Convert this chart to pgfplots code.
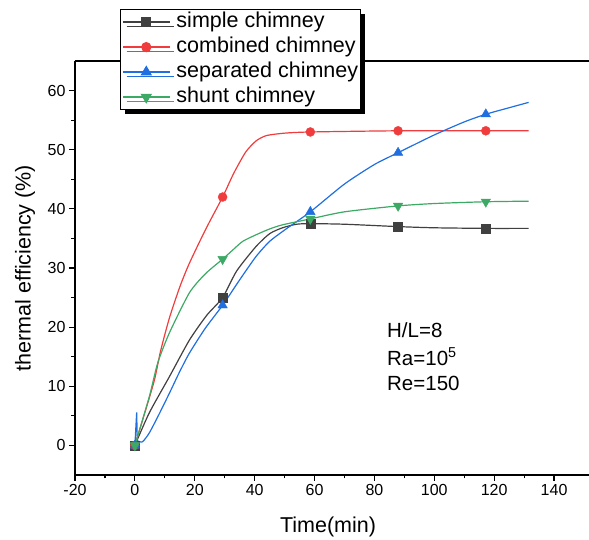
\documentclass[border=0pt]{standalone}
\usepackage{pgfplots}
\pgfplotsset{compat=1.18}
\usepackage{fontspec}
\setmainfont{Liberation Sans}
\usetikzlibrary{shadows}

\definecolor{cgray}{HTML}{404040}
\definecolor{cred}{HTML}{F03C3C}
\definecolor{cblue}{HTML}{1F6FE0}
\definecolor{cgreen}{HTML}{3CAA64}

\begin{document}
\begin{tikzpicture}
\useasboundingbox (-75pt,-65pt) rectangle (514pt,475pt);
\begin{axis}[
  at={(0pt,0pt)}, anchor=south west,
  scale only axis, width=513.5pt, height=414pt,
  xmin=-20, xmax=151.5, ymin=-5, ymax=65,
  axis x line*=box, axis y line*=left,
  xtick pos=left, ytick pos=left,
  xtick={-20,0,...,140}, ytick={0,10,...,60},
  minor x tick num=1, minor y tick num=1,
  tick align=outside,
  major tick length=6pt, minor tick length=3.5pt,
  every tick/.style={black, line width=1.2pt},
  axis line style={line width=1.5pt},
  /pgf/number format/assume math mode=true,
  ticklabel style={font=\fontsize{16}{18}\selectfont},
  xlabel={Time(min)}, ylabel={thermal efficiency (\%)},
  label style={font=\fontsize{21.5}{24}\selectfont},
  xlabel style={at={(axis description cs:0.4927,-0.1256)}, anchor=center},
  ylabel style={at={(axis description cs:-0.0974,0.5)}, anchor=center, rotate=0},
  legend cell align=left,
  legend style={at={(axis description cs:0.0876,1.1256)}, anchor=north west,
    draw=black, line width=1.2pt, fill=white,
    drop shadow={shadow xshift=4pt, shadow yshift=-4pt, fill=black, opacity=1},
    font=\fontsize{21.5}{24}\selectfont, row sep=3pt, inner sep=1.5pt,
    nodes={inner sep=1pt, text height=15.5pt, text depth=4.5pt},
    /tikz/every odd column/.append style={column sep=5pt}},
  legend image code/.code={
    \draw[#1,mark=none,line width=1.4pt] (0pt,0pt) -- (47pt,0pt);
    \draw[#1] plot coordinates {(23.5pt,0pt)};},
]
% lines
\addplot[cgray, line width=1.2pt, smooth, tension=0.4, forget plot] coordinates {
 (0,0) (4.8,5.5) (11.5,11.6) (18.2,17.8) (24,22) (29.3,25) (34,29.5) (40.4,33.6)
 (45,35.8) (49.3,36.8) (54,37.4) (58.6,37.5) (70,37.4) (87.9,37) (100,36.8)
 (117.2,36.7) (131.5,36.7)};
\addplot[cred, line width=1.2pt, smooth, tension=0.4, forget plot] coordinates {
 (0,0) (3,5) (6.5,11) (8.6,16) (11.5,21.5) (15,26.8) (18.2,30.8) (23.7,36.6)
 (29.3,42) (33,46) (37,49.6) (40.5,51.5) (44,52.4) (50,52.8) (58.6,53)
 (87.9,53.2) (117.2,53.2) (131.5,53.2)};
\addplot[cblue, line width=1.2pt, smooth, tension=0.4, forget plot] coordinates {
 (0.8,0.8) (2.5,0.6) (4.8,2.1) (8,5.2) (11.5,8.8) (14.8,12.3) (18.2,15.6)
 (23.5,19.8) (29.3,23.7) (35,28) (40.4,31.9) (45,34.5) (50.5,36.6) (58.6,39.5)
 (70,44.2) (80,47.5) (87.9,49.5) (100,52.5) (110,54.7) (117.2,56) (125,57.1)
 (131.5,58)};
\addplot[cblue, line width=1.2pt, sharp plot, forget plot] coordinates {
 (0,0) (0.6,5.6) (0.8,0.8)};
\addplot[cgreen, line width=1.2pt, smooth, tension=0.4, forget plot] coordinates {
 (0,0) (4.8,8.2) (7.6,13.9) (11.5,19) (18.2,25.8) (23.5,29) (29.3,31.5)
 (32.6,33) (36,34.5) (40.4,35.6) (45,36.6) (49.3,37.3) (58.6,38.3) (70,39.5)
 (87.9,40.5) (100,40.9) (117.2,41.2) (131.5,41.3)};
% markers
\addplot[cgray, only marks, mark=square*, mark size=4.5pt] coordinates {
 (0,0) (29.3,25) (58.6,37.5) (87.9,37) (117.2,36.7)};
\addplot[cred, only marks, mark=*, mark size=4.5pt] coordinates {
 (0,0) (29.3,42) (58.6,53) (87.9,53.2) (117.2,53.2)};
\addplot[cblue, only marks, mark=triangle*, mark size=5.5pt] coordinates {
 (0,0) (29.3,23.7) (58.6,39.5) (87.9,49.5) (117.2,56)};
\addplot[cgreen, only marks, mark=triangle*, mark size=5.5pt, mark options={rotate=180}] coordinates {
 (0,0) (29.3,31.5) (58.6,38.3) (87.9,40.5) (117.2,41.2)};
\legend{simple chimney, combined chimney, separated chimney, shunt chimney}
\node[anchor=west, font=\fontsize{20.5}{22}\selectfont, inner sep=0pt] at (axis cs:84.2,19.5) {H/L=8};
\node[anchor=west, font=\fontsize{20.5}{22}\selectfont, inner sep=0pt] at (axis cs:84.2,15) {Ra=10\textsuperscript{5}};
\node[anchor=west, font=\fontsize{20.5}{22}\selectfont, inner sep=0pt] at (axis cs:84.2,10.5) {Re=150};
\end{axis}
\end{tikzpicture}
\end{document}
